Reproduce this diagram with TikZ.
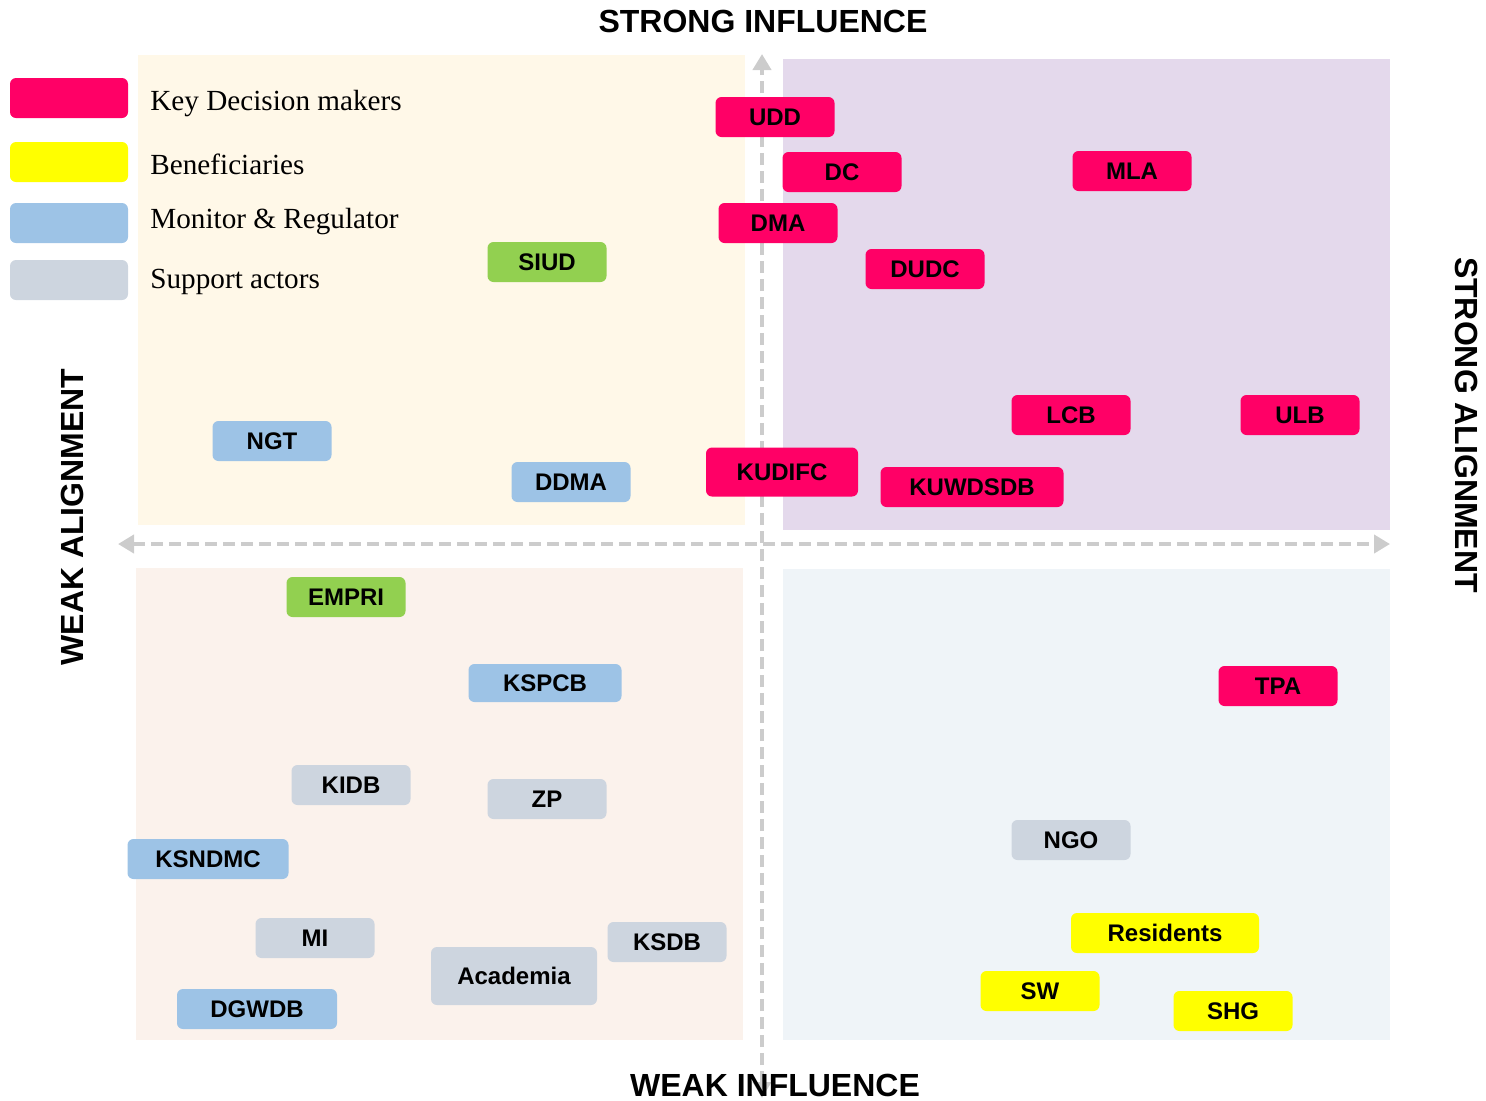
\documentclass[tikz,border=0pt]{standalone}
\usepackage{fontspec}
\setmainfont{Liberation Serif}
\newfontfamily\arialfont{Liberation Sans}
\usetikzlibrary{arrows.meta}
\definecolor{kred}{HTML}{FF0066}
\definecolor{kyel}{HTML}{FFFF00}
\definecolor{kblue}{HTML}{9DC3E6}
\definecolor{kgray}{HTML}{CDD5DF}
\definecolor{kgreen}{HTML}{92D050}
\definecolor{qtl}{HTML}{FFF8E8}
\definecolor{qtr}{HTML}{E4D9EC}
\definecolor{qbl}{HTML}{FBF2EC}
\definecolor{qbr}{HTML}{EFF4F8}
\definecolor{axisgray}{HTML}{CCCCCC}
\tikzset{
  box/.style={rounded corners=3pt, minimum height=20pt, minimum width=59.5pt, inner sep=0pt,
    font=\arialfont\bfseries\fontsize{12}{14}\selectfont, text=black},
  kr/.style={box, fill=kred},
  ky/.style={box, fill=kyel},
  kb/.style={box, fill=kblue},
  kg/.style={box, fill=kgray},
  kn/.style={box, fill=kgreen},
  legbox/.style={rounded corners=3pt, minimum width=59pt, minimum height=20pt, inner sep=0pt},
  legtext/.style={anchor=west, font=\fontsize{14.6}{17}\selectfont, inner sep=0pt},
  axis/.style={draw=axisgray, line width=2pt, dash pattern=on 6pt off 3pt,
    {Triangle[width=9pt,length=8pt]}-{Triangle[width=9pt,length=8pt]}},
  title/.style={font=\arialfont\bfseries\fontsize{16}{18}\selectfont, inner sep=0pt}
}
\begin{document}
\begin{tikzpicture}[x=0.5pt,y=-0.5pt]
\useasboundingbox (0,0) rectangle (1486,1100);
% quadrants
\fill[qtl] (138,55) rectangle (745,525);
\fill[qtr] (783,59) rectangle (1390,530);
\fill[qbl] (136,568) rectangle (743,1040);
\fill[qbr] (783,569) rectangle (1390,1040);
% axes
\coordinate (vtop) at (762,54);
\coordinate (vbot) at (762,1098);
\coordinate (hl) at (118,544);
\coordinate (hr) at (1390,544);
\draw[axis] (vbot) -- (vtop);
\draw[axis] (hl) -- (hr);
% titles
\node[title] (tsi) at (763,21) {STRONG INFLUENCE};
\node[title] (twi) at (775,1085) {WEAK INFLUENCE};
\node[title, rotate=90] (twa) at (72,517) {WEAK ALIGNMENT};
\node[title, rotate=-90] (tsa) at (1466,425) {STRONG ALIGNMENT};
% legend
\node[legbox, fill=kred] (l1) at (69,98) {};
\node[legbox, fill=kyel] (l2) at (69,162) {};
\node[legbox, fill=kblue] (l3) at (69,223) {};
\node[legbox, fill=kgray] (l4) at (69,280) {};
\node[legtext] (t1) at (150,104) {Key Decision makers};
\node[legtext] (t2) at (150,164) {Beneficiaries};
\node[legtext] (t3) at (150,222) {Monitor \& Regulator};
\node[legtext] (t4) at (150,282) {Support actors};
% actors
\node[kr] (udd) at (775,117) {UDD};
\node[kr] (dc) at (842,172) {DC};
\node[kr] (mla) at (1132,171) {MLA};
\node[kr] (dma) at (778,223) {DMA};
\node[kr] (dudc) at (925,269) {DUDC};
\node[kn] (siud) at (547,262) {SIUD};
\node[kr] (lcb) at (1071,415) {LCB};
\node[kr] (ulb) at (1300,415) {ULB};
\node[kb] (ngt) at (272,441) {NGT};
\node[kb] (ddma) at (571,482) {DDMA};
\node[kr, minimum width=76pt, minimum height=24.5pt] (kudifc) at (782,472) {KUDIFC};
\node[kr, minimum width=91.5pt] (kuwdsdb) at (972,487) {KUWDSDB};
\node[kn] (empri) at (346,597) {EMPRI};
\node[kb, minimum width=76.5pt, minimum height=19pt] (kspcb) at (545,683) {KSPCB};
\node[kr] (tpa) at (1278,686) {TPA};
\node[kg] (kidb) at (351,785) {KIDB};
\node[kg] (zp) at (547,799) {ZP};
\node[kb, minimum width=80.5pt] (ksndmc) at (208,859) {KSNDMC};
\node[kg] (ngo) at (1071,840) {NGO};
\node[ky, minimum width=94pt] (res) at (1165,933) {Residents};
\node[kg] (mi) at (315,938) {MI};
\node[kg, minimum width=83pt, minimum height=29pt] (acad) at (514,976) {Academia};
\node[kg] (ksdb) at (667,942) {KSDB};
\node[ky] (sw) at (1040,991) {SW};
\node[ky] (shg) at (1233,1011) {SHG};
\node[kb, minimum width=80pt] (dgwdb) at (257,1009) {DGWDB};
\end{tikzpicture}
\end{document}
